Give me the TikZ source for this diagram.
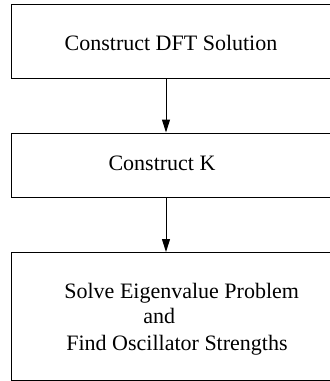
\documentclass[tikz,border=0pt]{standalone}
\usepackage{fontspec}
\setmainfont{Liberation Serif}
\usetikzlibrary{arrows.meta}

\begin{document}
\begin{tikzpicture}[x=0.5pt,y=-0.5pt]
  \def\w{170pt}
  \tikzset{stage/.style={draw,rectangle,anchor=north west,inner sep=0pt,line width=0.5pt,minimum width=\w}}
  \tikzset{caption/.style={anchor=base,inner sep=0pt,font=\fontsize{11}{13.5}\selectfont}}
  \tikzset{flow/.style={-{Triangle[length=6.5pt,width=4pt]},line width=0.5pt}}
  \useasboundingbox (0,0) rectangle (330,381);
  \node[stage,minimum height=37pt] (dft) at (11,4) {};
  \node[stage,minimum height=32.25pt] (kmat) at (11,132.5) {};
  \node[stage,minimum height=63.75pt] (eigen) at (11,252) {};
  \node[caption] (dftText) at (171,50) {Construct DFT Solution};
  \node[caption] (kmatText) at (162,170) {Construct K};
  \node[caption,anchor=base west] (solveText) at (64,298) {Solve Eigenvalue Problem};
  \node[caption,anchor=base west] (andText) at (143,323) {and};
  \node[caption,anchor=base west] (findText) at (66,350) {Find Oscillator Strengths};
  \draw[flow] (dft.south west -| 166,0) -- (kmat.north west -| 166,0);
  \draw[flow] (kmat.south west -| 166,0) -- (eigen.north west -| 166,0);
\end{tikzpicture}
\end{document}
